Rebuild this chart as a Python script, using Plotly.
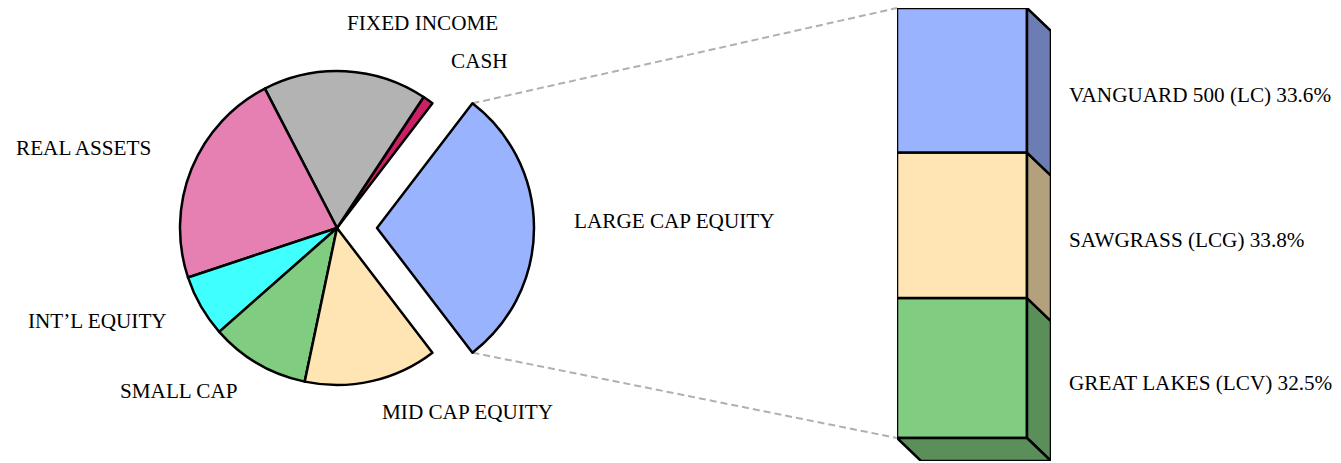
import math
import plotly.graph_objects as go

W, H = 1341, 463

# pie data (counterclockwise, starting with the exploded slice)
pie_labels = ["LARGE CAP EQUITY", "CASH", "FIXED INCOME", "REAL ASSETS",
              "INT’L EQUITY", "SMALL CAP", "MID CAP EQUITY"]
pie_values = [29.2, 1.1, 16.9, 22.5, 6.4, 10.2, 13.7]
pie_colors = ["#99B3FF", "#CC1F66", "#B3B3B3", "#E680B3",
              "#40FFFF", "#80CC80", "#FFE5B3"]

# bar-of-pie data (bottom to top)
bar_labels = ["GREAT LAKES (LCV)", "SAWGRASS (LCG)", "VANGUARD 500 (LC)"]
bar_values = [32.5, 33.8, 33.6]
bar_colors = ["#80CC80", "#FFE5B3", "#99B3FF"]
side_colors = ["#5A8F5A", "#B3A07D", "#6B7DB3"]

FONT = "Liberation Serif"
FSIZE = 21.2
LW = 2.5

def px(x):
    return x / W

def py(y):
    return 1 - y / H

fig = go.Figure()

# ---- pie ----
cx, cy, r = 337, 228, 157
pull = 40 / r
half = r * (1 + pull)
a0 = pie_values[0] / sum(pie_values) * 360
rot = 90 - a0 / 2

fig.add_trace(go.Pie(
    labels=pie_labels, values=pie_values, sort=False, direction="counterclockwise",
    rotation=rot, pull=[pull] + [0] * (len(pie_values) - 1),
    marker=dict(colors=pie_colors, line=dict(color="black", width=LW)),
    textinfo="none", hoverinfo="label+percent",
    domain=dict(x=[px(cx - half), px(cx + half)], y=[py(cy + half), py(cy - half)]),
))

# ---- stacked bar with fake depth ----
total = sum(bar_values)
bx0, bx1, btop, bbot = 897, 1027, 8, 438
dpx, dpy = 24, 23
dx = dpx / (bx1 - bx0)
dyu = dpy * total / (bbot - btop)

fig.update_layout(
    xaxis=dict(domain=[px(bx0), px(bx1 + dpx)], range=[-0.5, 0.5 + dx], visible=False),
    yaxis=dict(domain=[py(bbot + dpy), py(btop)], range=[-dyu, total], visible=False),
)

base = 0
for lab, v, c, sc in zip(bar_labels, bar_values, bar_colors, side_colors):
    fig.add_trace(go.Bar(
        x=[0], y=[v], base=[base], width=[1], marker=dict(color=c, line=dict(color="black", width=LW)),
        name=lab, cliponaxis=False, hoverinfo="name+y",
    ))
    t = base + v
    fig.add_trace(go.Scatter(
        x=[0.5, 0.5 + dx, 0.5 + dx, 0.5, 0.5],
        y=[t, t - dyu, base - dyu, base, t],
        fill="toself", fillcolor=sc, mode="lines",
        line=dict(color="black", width=LW), cliponaxis=False, hoverinfo="skip",
    ))
    fig.add_annotation(
        x=0.5 + dx, y=base + v / 2 - dyu / 2, xref="x", yref="y",
        text=f"{lab} {v:.1f}%", showarrow=False, xanchor="left", yanchor="middle",
        xshift=16, yshift=-3,
        font=dict(family=FONT, size=FSIZE, color="black"),
    )
    base = t

# bottom face
fig.add_trace(go.Scatter(
    x=[-0.5, 0.5, 0.5 + dx, -0.5 + dx, -0.5],
    y=[0, 0, -dyu, -dyu, 0],
    fill="toself", fillcolor=side_colors[0], mode="lines",
    line=dict(color="black", width=LW), cliponaxis=False, hoverinfo="skip",
))

# connector lines from the exploded slice to the bar
ox = cx + pull * r
for ang, by in [(a0 / 2, btop), (-a0 / 2, bbot)]:
    sx = ox + r * math.cos(math.radians(ang))
    sy = cy - r * math.sin(math.radians(ang))
    fig.add_shape(type="line", xref="paper", yref="paper",
                  x0=px(sx), y0=py(sy), x1=px(bx0), y1=py(by),
                  line=dict(color="#B0B0B0", width=2, dash="7px,4px"), layer="below")

# pie labels
label_pos = {
    "LARGE CAP EQUITY": (674, 221),
    "CASH": (479, 61),
    "FIXED INCOME": (422, 23),
    "REAL ASSETS": (83, 148),
    "INT’L EQUITY": (97, 321),
    "SMALL CAP": (179, 391),
    "MID CAP EQUITY": (467, 412),
}
for lab in pie_labels:
    x, y = label_pos[lab]
    fig.add_annotation(x=px(x), y=py(y), xref="paper", yref="paper", text=lab,
                       xanchor="center", yanchor="middle", showarrow=False,
                       font=dict(family=FONT, size=FSIZE, color="black"))

fig.update_layout(
    width=W, height=H, margin=dict(l=0, r=0, t=0, b=0),
    paper_bgcolor="white", plot_bgcolor="white",
    showlegend=False, barmode="overlay",
    font=dict(family=FONT),
)

fig.write_html("out.html", config={"displayModeBar": False},
               post_script="document.body.style.margin='0';")
